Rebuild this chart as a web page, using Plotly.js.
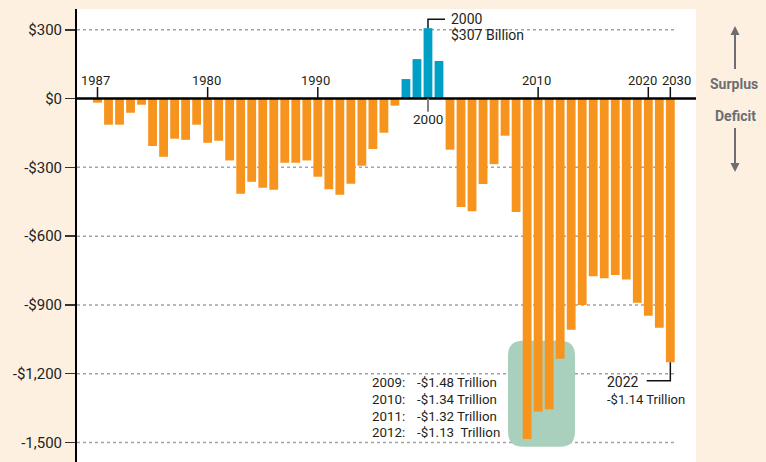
<!DOCTYPE html>
<html><head><meta charset="utf-8">
<script src="https://cdn.plot.ly/plotly-3.0.1.min.js"></script>
<style>html,body{margin:0;padding:0;background:#fdf0e1;} #chart{width:766px;height:462px;}</style>
</head><body><div id="chart"></div>
<script>
// ---- data (billions of dollars) ----
const years = [1970,1971,1972,1973,1974,1975,1976,1977,1978,1979,
               1980,1981,1982,1983,1984,1985,1986,1987,1988,1989,
               1990,1991,1992,1993,1994,1995,1996,1997,1998,1999,
               2000,2001,2002,2003,2004,2005,2006,2007,2008,2009,
               2010,2011,2012,2013,2014,2015,2016,2017,2018,2019,
               2020,2021,2022];
const balances = [-18,-114,-114,-62,-27,-207,-254,-175,-180,-114,
                  -193,-184,-270,-415,-363,-389,-398,-280,-280,-270,
                  -341,-396,-419,-372,-293,-220,-149,-31,85,172,
                  307,164,-223,-473,-491,-373,-286,-162,-495,-1485,
                  -1365,-1355,-1135,-1008,-900,-775,-784,-770,-789,-890,
                  -947,-1000,-1150];
const yTickVals = [300,0,-300,-600,-900,-1200,-1500];
const yTickText = ['$300','$0','-$300','-$600','-$900','-$1,200','-1,500'];
const xLabelYears = [1970,1980,1990,2010,2020,2022];
const xLabelText  = ['1987','1980','1990','2010','2020','2030'];
const peakYear = 2000;
const peakLabel = ['2000','$307 Billion'];
const lastYear = 2022;
const lastLabel = ['2022','-$1.14 Trillion'];
const crisisYears  = ['2009:','2010:','2011:','2012:'];
const crisisValues = ['-$1.48 Trillion','-$1.34 Trillion','-$1.32 Trillion','-$1.13\u00a0 Trillion'];
const sideLabels = ['Surplus','Deficit'];

// ---- geometry helpers ----
const M = {l:77, r:70, t:9, b:0};
const PW = 766 - M.l - M.r, PH = 462 - M.t - M.b;
const xr = [1968.14, 2024.33], yr = [-1585, 390.5];
const X = px => xr[0] + (px - M.l) / PW * (xr[1] - xr[0]);
const Y = py => yr[1] - (py - M.t) / PH * (yr[1] - yr[0]);
const PX = px => (px - M.l) / PW;
const PY = py => 1 - (py - M.t) / PH;
const labelShift = [-2,-1.5,-2,-1.5,-6,6];   // pixel nudges of the year labels

const ORANGE = '#f7941d', BLUE = '#00a0c6', GRAY = '#6d6e71', INK = '#231f20';

const shapes = [];
yTickVals.filter(v => v !== 0).forEach(v => shapes.push({
  type:'line', xref:'x', yref:'y', x0:X(77), x1:X(675), y0:v, y1:v, layer:'below',
  line:{color:'#a3a3a3', width:1.5, dash:'dot'}
}));
// highlight box
(function(){
  const x0 = X(508), x1 = X(575), yt = Y(340.7), yb = Y(446.7);
  const rx = X(77+15) - X(77), ry = Y(9) - Y(9+15);
  const p = `M ${x0+rx},${yt} L ${x1-rx},${yt} Q ${x1},${yt} ${x1},${yt-ry} L ${x1},${yb+ry} Q ${x1},${yb} ${x1-rx},${yb} L ${x0+rx},${yb} Q ${x0},${yb} ${x0},${yb+ry} L ${x0},${yt-ry} Q ${x0},${yt} ${x0+rx},${yt} Z`;
  shapes.push({type:'path', xref:'x', yref:'y', path:p, fillcolor:'#a9d0bc', line:{width:0}, layer:'below'});
})();
// zero line
shapes.push({type:'line', xref:'paper', yref:'y', x0:0, x1:1, y0:0, y1:0, layer:'above', line:{color:'#000', width:2.5}});
// year ticks above axis
xLabelYears.forEach(yv => shapes.push({type:'line', xref:'x', yref:'y', x0:yv, x1:yv, y0:0, y1:Y(87), layer:'above', line:{color:'#111', width:1.5}}));
// 2000 tick below axis
shapes.push({type:'line', xref:'x', yref:'y', x0:peakYear, x1:peakYear, y0:0, y1:Y(111.7), layer:'above', line:{color:'#808080', width:2}});
// leaders
const peakVal = balances[years.indexOf(peakYear)];
shapes.push({type:'path', xref:'x', yref:'y', layer:'above', line:{color:'#111', width:1.5},
  path:`M ${peakYear},${peakVal} L ${peakYear},${Y(19.3)} L ${X(445)},${Y(19.3)}`});
const lastVal = balances[years.indexOf(lastYear)];
shapes.push({type:'path', xref:'x', yref:'y', layer:'above', line:{color:'#111', width:1.5},
  path:`M ${lastYear},${lastVal} L ${lastYear},${Y(380.7)} L ${X(646.7)},${Y(380.7)}`});
// side arrows
shapes.push({type:'line', xref:'paper', yref:'paper', x0:PX(735), x1:PX(735), y0:PY(33), y1:PY(69), line:{color:GRAY, width:2}});
shapes.push({type:'path', xref:'paper', yref:'paper', fillcolor:GRAY, line:{width:0},
  path:`M ${PX(735)},${PY(26)} L ${PX(739.5)},${PY(35)} L ${PX(730.5)},${PY(35)} Z`});
shapes.push({type:'line', xref:'paper', yref:'paper', x0:PX(735), x1:PX(735), y0:PY(128), y1:PY(165), line:{color:GRAY, width:2}});
shapes.push({type:'path', xref:'paper', yref:'paper', fillcolor:GRAY, line:{width:0},
  path:`M ${PX(735)},${PY(172)} L ${PX(739.5)},${PY(163)} L ${PX(730.5)},${PY(163)} Z`});

const ann = [];
const txt = (x, y, text, size, xanchor, extra) => Object.assign({
  xref:'x', yref:'y', x, y, text, showarrow:false, xanchor:xanchor||'center', yanchor:'middle',
  font:{family:'Roboto', size:size, color:INK}
}, extra||{});
xLabelYears.forEach((yv,i) => ann.push(txt(yv, Y(80.7), xLabelText[i], 13, 'center', {xshift:labelShift[i]})));
ann.push(txt(peakYear, Y(118.7), peakLabel[0], 13.5));
ann.push(txt(X(449), Y(19.2), peakLabel[0], 14, 'left'));
ann.push(txt(X(449), Y(35.3), peakLabel[1], 14, 'left'));
ann.push(txt(X(605), Y(381.7), lastLabel[0], 14, 'left'));
ann.push(txt(X(605), Y(399.3), lastLabel[1], 13, 'left'));
const rowsY = [382.7, 399.3, 416.7, 432.7];
crisisYears.forEach((t,i) => {
  ann.push(txt(X(370), Y(rowsY[i]), t, 13.3, 'left'));
  ann.push(txt(X(415), Y(rowsY[i]), crisisValues[i], 13.3, 'left'));
});
ann.push({xref:'paper', yref:'paper', x:PX(734), y:PY(84), text:'<b>'+sideLabels[0]+'</b>', showarrow:false,
  xanchor:'center', yanchor:'middle', font:{family:'Roboto', size:14, color:GRAY}});
ann.push({xref:'paper', yref:'paper', x:PX(735), y:PY(116), text:'<b>'+sideLabels[1]+'</b>', showarrow:false,
  xanchor:'center', yanchor:'middle', font:{family:'Roboto', size:14, color:GRAY}});

const trace = {
  type:'bar', x:years, y:balances,
  marker:{color: balances.map(v => v >= 0 ? BLUE : ORANGE), line:{width:0}},
  hoverinfo:'none'
};

const layout = {
  width:766, height:462, margin:M,
  paper_bgcolor:'#fdf0e1', plot_bgcolor:'#ffffff',
  font:{family:'Roboto', color:INK},
  bargap:0.2, showlegend:false,
  xaxis:{visible:false, range:xr, fixedrange:true},
  yaxis:{range:yr, fixedrange:true, showgrid:false, zeroline:false,
    showline:true, linecolor:'#000', linewidth:2,
    ticks:'outside', ticklen:10, tickwidth:1.5, tickcolor:'#333',
    tickvals:yTickVals, ticktext:yTickText,
    tickfont:{family:'Roboto', size:15, color:INK}},
  shapes, annotations:ann
};
Plotly.newPlot('chart', [trace], layout, {displayModeBar:false, staticPlot:true});
</script></body></html>
